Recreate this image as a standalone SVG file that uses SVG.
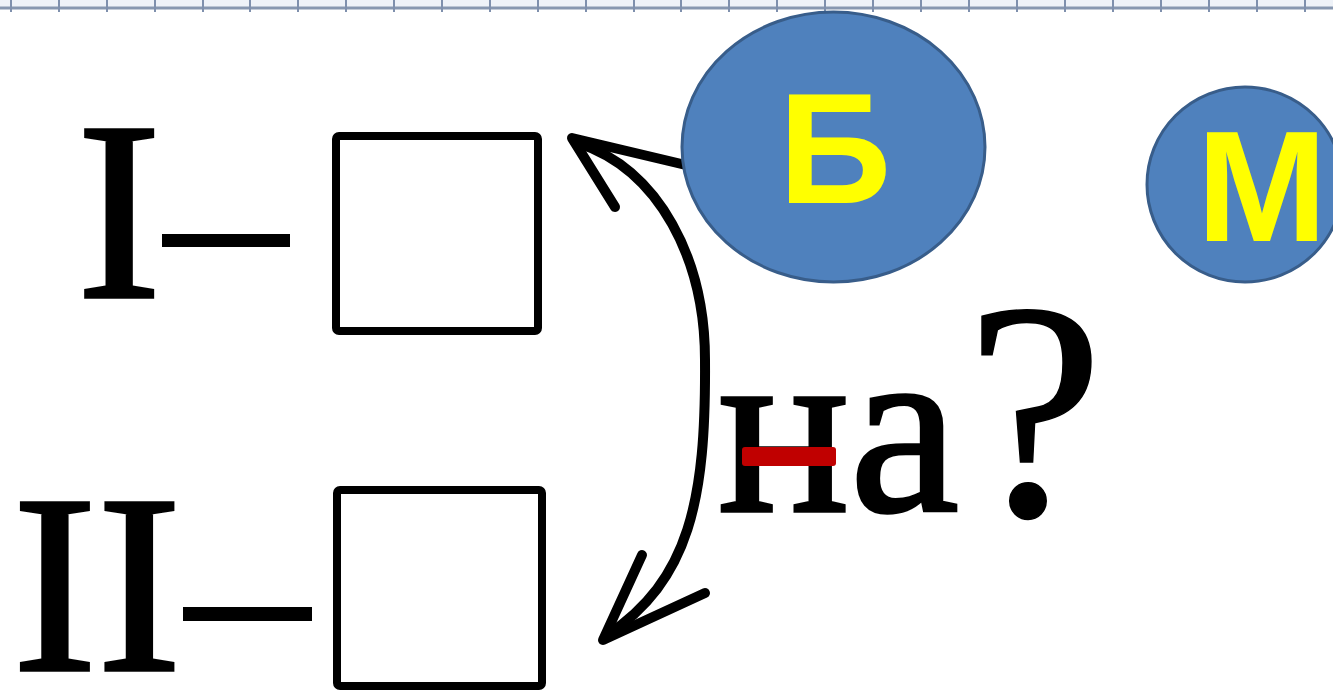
<svg xmlns="http://www.w3.org/2000/svg" width="1333" height="692" viewBox="0 0 1333 692">
<defs>
<style>
.serif{font-family:"Liberation Serif","Times New Roman",serif;fill:#000;stroke:#000;stroke-width:3.5;stroke-linejoin:miter}
.q{stroke-width:1.5}
.sans{font-family:"Liberation Sans",Arial,sans-serif;font-weight:bold;fill:#ffff00}
.box{fill:#fff;stroke:#000;stroke-width:8}
.bubble{fill:#4f81bd;stroke:#385d8a;stroke-width:3}
.arrow{fill:none;stroke:#000;stroke-width:10;stroke-linecap:round;stroke-linejoin:round}
.tick{stroke:#7f90ad;stroke-width:2}
</style>
</defs>
<rect width="1333" height="692" fill="#fff"/>
<g id="ruler">
<rect x="0" y="0" width="1333" height="8" fill="#eef2f8"/>
<line x1="0" y1="8" x2="1333" y2="8" stroke="#8797b0" stroke-width="3"/>
<path class="tick" d="M11,0V12M59,0V12M107,0V12M155,0V12M203,0V12M250,0V12M298,0V12M346,0V12M394,0V12M442,0V12M490,0V12M538,0V12M586,0V12M634,0V12M681,0V12M729,0V12M777,0V12M825,0V12M873,0V12M921,0V12M969,0V12M1017,0V12M1065,0V12M1113,0V12M1161,0V12M1209,0V12M1257,0V12M1305,0V12"/>
</g>
<g id="row1">
<text class="serif" x="119" y="297" font-size="254" text-anchor="middle">I</text>
<rect x="162" y="234" width="128" height="13" fill="#000"/>
<rect class="box" x="336" y="136" width="202" height="195" rx="3"/>
</g>
<g id="row2">
<text class="serif" x="97" y="670" font-size="254" text-anchor="middle">II</text>
<rect x="183" y="607" width="129" height="14" fill="#000"/>
<rect class="box" x="337" y="490" width="205" height="196" rx="3"/>
</g>
<g id="connectors">
<path class="arrow" d="M578,143 C660,170 705,260 705,360 C706,500 690,580 606,636"/>
<polyline class="arrow" points="615,207 572,138 690,166"/>
<polyline class="arrow" points="642,555 603,640 705,593"/>
</g>
<g id="word">
<text class="serif" x="718" y="511" font-size="246">на</text>
<text class="serif q" x="966" y="515" font-size="310">?</text>
<rect x="742" y="447" width="94" height="19" rx="3" fill="#c00000"/>
</g>
<g id="bubbleB">
<ellipse class="bubble" cx="833.5" cy="147" rx="151.5" ry="135"/>
<text class="sans" x="835" y="203" font-size="157" text-anchor="middle">Б</text>
</g>
<g id="bubbleM">
<ellipse class="bubble" cx="1245" cy="184.5" rx="98" ry="97.5"/>
<text class="sans" x="1262" y="241" font-size="157" text-anchor="middle">М</text>
</g>
</svg>
